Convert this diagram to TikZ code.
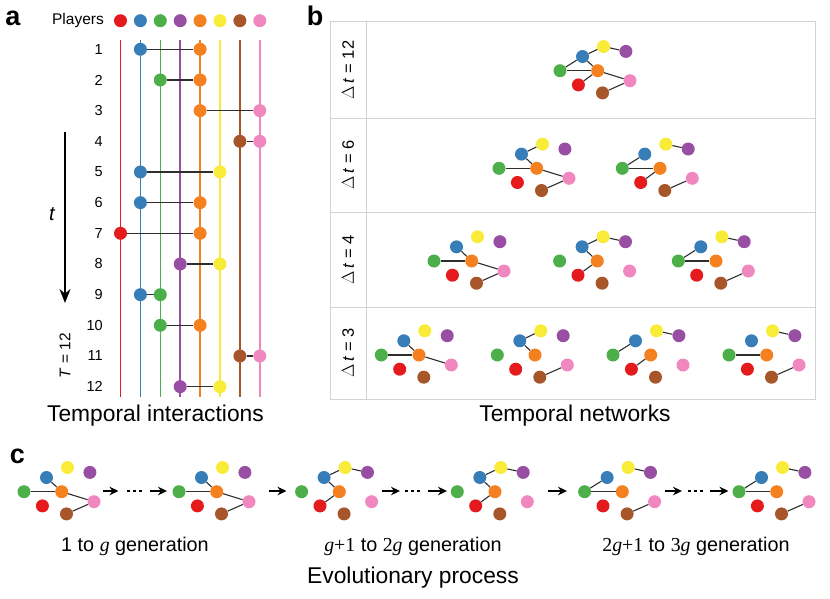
\documentclass[tikz,border=0pt]{standalone}
\usepackage{fontspec}
\setmainfont{Liberation Sans}
\newfontfamily\serifit{Liberation Serif}
\usetikzlibrary{arrows.meta}
\pgfdeclarelayer{bg}
\pgfsetlayers{bg,main}
\definecolor{colR}{HTML}{E41A1C}
\definecolor{colB}{HTML}{377EB8}
\definecolor{colG}{HTML}{4DAF4A}
\definecolor{colP}{HTML}{984EA3}
\definecolor{colO}{HTML}{F58020}
\definecolor{colY}{HTML}{F8EC38}
\definecolor{colN}{HTML}{A65628}
\definecolor{colK}{HTML}{F088BF}
\colorlet{col0}{colR}\colorlet{col1}{colB}\colorlet{col2}{colG}\colorlet{col3}{colP}
\colorlet{col4}{colO}\colorlet{col5}{colY}\colorlet{col6}{colN}\colorlet{col7}{colK}
\definecolor{edgec}{HTML}{2E2E2E}
\definecolor{gridc}{HTML}{D2D2D2}
\tikzset{
  dot/.style={circle, fill=#1, draw=none, minimum size=13pt, inner sep=0pt},
  netedge/.style={draw=edgec, line width=1.1pt},
  pline/.style={line width=1.6pt},
  hline/.style={draw=edgec, line width=1.6pt},
  numlab/.style={font=\fontsize{14.5}{17}\selectfont, inner sep=0pt, anchor=east},
  biglab/.style={font=\fontsize{22.8}{26}\selectfont, inner sep=0pt},
  panlab/.style={font=\fontsize{27}{30}\selectfont\bfseries, inner sep=0pt},
  genlab/.style={font=\fontsize{19.8}{23}\selectfont, inner sep=0pt},
  rowlab/.style={font=\fontsize{16.5}{19}\selectfont, inner sep=0pt, rotate=90},
  arr/.style={draw=black, line width=1.5pt, -{Stealth[length=9pt,width=8.5pt]}},
  dots3/.style={draw=black, line width=2.6pt, dash pattern=on 3pt off 3pt},
}
\newcommand\mynet[4]{%
  \begin{scope}[shift={(#2,#3)}]
    \node[dot=colO] (#1O) at (0,0) {};
    \node[dot=colY] (#1Y) at (5.8,-24.2) {};
    \node[dot=colP] (#1P) at (28.2,-19.3) {};
    \node[dot=colB] (#1B) at (-15.2,-14.2) {};
    \node[dot=colG] (#1G) at (-37.7,0) {};
    \node[dot=colK] (#1K) at (32.3,10) {};
    \node[dot=colR] (#1R) at (-19.3,14.2) {};
    \node[dot=colN] (#1N) at (4.8,22.2) {};
  \end{scope}
  \begin{pgfonlayer}{bg}
    \foreach \u/\v in {#4}{\draw[netedge] (#1\u) -- (#1\v);}
  \end{pgfonlayer}%
}
\newcommand\gi{{\serifit\itshape g}}
\newcommand\sr[1]{{\serifit #1}}
\begin{document}
\begin{tikzpicture}[x=1pt,y=-1pt]
\useasboundingbox (0,0) rectangle (830,598);

% ---------- panel a ----------
\node[panlab] (la) at (13,18) {a};
\node[font=\fontsize{15.5}{18}\selectfont, inner sep=0pt, anchor=east] (players) at (104,20.7) {Players};
\foreach \i in {0,...,7}{
  \pgfmathsetmacro{\xx}{120.5+19.9*\i}
  \node[dot=col\i] (h\i) at (\xx,20.7) {};
  \coordinate (top\i) at (\xx,40);
  \coordinate (bot\i) at (\xx,397);
  \begin{pgfonlayer}{bg}
    \draw[pline, draw=col\i] (top\i) -- (bot\i);
  \end{pgfonlayer}
}
\foreach \k/\a/\b in {1/1/4,2/2/4,3/4/7,4/6/7,5/1/5,6/1/4,7/0/4,8/3/5,9/1/2,10/2/4,11/6/7,12/3/5}{
  \pgfmathsetmacro{\yy}{49.3+30.67*(\k-1)}
  \pgfmathsetmacro{\xa}{120.5+19.9*\a}
  \pgfmathsetmacro{\xb}{120.5+19.9*\b}
  \node[numlab] (n\k) at (103,\yy) {\k};
  \node[dot=col\a] (a\k-\a) at (\xa,\yy) {};
  \node[dot=col\b] (a\k-\b) at (\xb,\yy) {};
  \begin{pgfonlayer}{bg}
    \draw[hline] (a\k-\a) -- (a\k-\b);
  \end{pgfonlayer}
}
\coordinate (tA) at (65,132);
\coordinate (tB) at (65,303);
\draw[line width=1.6pt, -{Stealth[length=14pt,width=11pt]}] (tA) -- (tB);
\node[font=\fontsize{20}{24}\selectfont\itshape, inner sep=0pt] (tlab) at (52,214) {t};
\node[font=\fontsize{15.5}{18}\selectfont, inner sep=0pt, rotate=90] (Tlab) at (65,356) {\textit{T} = 12};
\node[biglab] (tia) at (155.5,416) {Temporal interactions};

% ---------- panel b ----------
\node[panlab] (lb) at (315,16) {b};
\draw[draw=gridc, line width=1pt] (330.7,21.7) rectangle (815,399.3);
\draw[draw=gridc, line width=1pt] (366,21.7) -- (366,399.3);
\foreach \yy in {118.3,212,307}{
  \draw[draw=gridc, line width=1pt] (330.7,\yy) -- (815,\yy);
}
\node[rowlab] (r12) at (348,70) {$\Delta$\,\textit{t} = 12};
\node[rowlab] (r6) at (348,165) {$\Delta$\,\textit{t} = 6};
\node[rowlab] (r4) at (348,259.5) {$\Delta$\,\textit{t} = 4};
\node[rowlab] (r3) at (348,353) {$\Delta$\,\textit{t} = 3};

\mynet{b12}{597.7}{70.7}{B/O,G/O,O/K,N/K,B/Y,R/O,P/Y,B/G}
\mynet{b6a}{536.7}{168.3}{B/O,G/O,O/K,N/K,B/Y}
\mynet{b6b}{660}{168.3}{R/O,P/Y,B/G,G/O,N/K}
\mynet{b4a}{471.7}{261}{B/O,G/O,O/K,N/K}
\mynet{b4b}{597.3}{261}{B/Y,B/O,R/O,P/Y}
\mynet{b4c}{716}{261}{B/G,G/O,N/K,P/Y}
\mynet{b3a}{419}{355}{B/O,G/O,O/K}
\mynet{b3b}{535}{355}{N/K,B/Y,B/O}
\mynet{b3c}{650.7}{355}{R/O,P/Y,B/G}
\mynet{b3d}{766.7}{355}{G/O,N/K,P/Y}
\node[biglab] (tnet) at (575,416) {Temporal networks};

% ---------- panel c ----------
\node[panlab] (lc) at (17.5,456) {c};
\mynet{c1}{61.7}{491.7}{B/O,G/O,O/K,N/K}
\mynet{c2}{216.7}{491.7}{B/O,G/O,O/K,N/K}
\mynet{c3}{339.3}{491.7}{B/Y,B/O,R/O,P/Y}
\mynet{c4}{495}{491.7}{B/Y,B/O,R/O,P/Y}
\mynet{c5}{622.3}{491.7}{B/G,G/O,N/K,P/Y}
\mynet{c6}{776.7}{491.7}{B/G,G/O,N/K,P/Y}

\foreach \s/\e [count=\n] in {102.7/118.5,150/167,269/286.5,381.7/400,428/447,548/567,665/682,710/728.5}{
  \coordinate (as\n) at (\s,491);
  \coordinate (ae\n) at (\e,491);
  \draw[arr] (as\n) -- (ae\n);
}
\foreach \s/\e [count=\n] in {127/142,405/420,688/703}{
  \coordinate (ds\n) at (\s,491);
  \coordinate (de\n) at (\e,491);
  \draw[dots3] (ds\n) -- (de\n);
}
\node[genlab] (g1) at (135,546) {1 to \gi{} generation};
\node[genlab] (g2) at (413,546) {\gi\sr{+1} to \sr{2}\gi{} generation};
\node[genlab] (g3) at (696,546) {\sr{2}\gi\sr{+1} to \sr{3}\gi{} generation};
\node[biglab] (evo) at (413,578) {Evolutionary process};
\end{tikzpicture}
\end{document}
